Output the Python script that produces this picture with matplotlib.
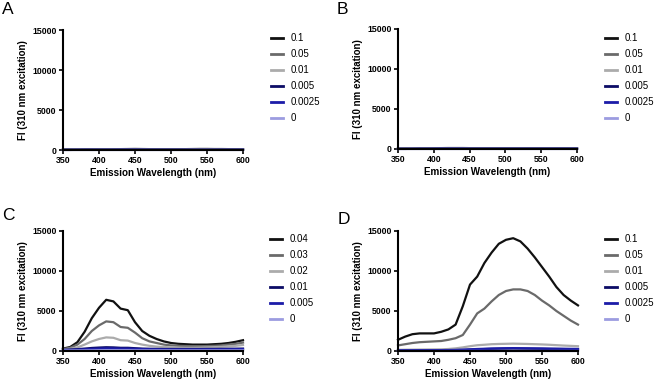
import matplotlib.pyplot as plt

plt.rcParams['font.family'] = ['Liberation Sans', 'DejaVu Sans']

wl = list(range(350, 601, 10))

labels_abd = ['0.1', '0.05', '0.01', '0.005', '0.0025', '0']
labels_c = ['0.04', '0.03', '0.02', '0.01', '0.005', '0']
colors = ['#111111', '#6a6a6a', '#ababab', '#0c0c66', '#1c1ca8', '#9c9ce0']

# panel A
a_1 = [60, 70, 70, 80, 80, 90, 90, 100, 110, 120, 130, 120, 110, 110, 100, 100, 100, 110, 120, 130, 130, 120, 120, 110, 110, 100]
a_05 = [40, 50, 50, 60, 60, 60, 70, 70, 80, 80, 80, 80, 70, 70, 70, 70, 70, 80, 80, 80, 80, 80, 70, 70, 70, 70]
a_01 = [20, 20, 30, 30, 30, 40, 40, 40, 40, 50, 50, 40, 40, 40, 40, 40, 40, 40, 50, 50, 50, 40, 40, 40, 40, 40]
a_005 = [20, 20, 20, 30, 30, 30, 30, 30, 30, 40, 40, 30, 30, 30, 30, 30, 30, 30, 30, 30, 30, 30, 30, 30, 30, 30]
a_0025 = [10, 10, 20, 20, 20, 20, 20, 20, 30, 30, 30, 30, 20, 20, 20, 20, 20, 20, 20, 20, 20, 20, 20, 20, 20, 20]
a_0 = [10, 10, 10, 10, 10, 10, 10, 10, 10, 10, 10, 10, 10, 10, 10, 10, 10, 10, 10, 10, 10, 10, 10, 10, 10, 10]

# panel B
b_1 = [50, 60, 60, 70, 80, 100, 110, 120, 120, 120, 110, 110, 100, 100, 100, 100, 100, 100, 110, 110, 110, 100, 100, 100, 90, 90]
b_05 = [30, 40, 40, 50, 60, 70, 80, 80, 80, 80, 70, 70, 70, 70, 70, 70, 70, 70, 70, 70, 70, 70, 60, 60, 60, 60]
b_01 = [20, 20, 30, 30, 40, 40, 50, 50, 50, 50, 40, 40, 40, 40, 40, 40, 40, 40, 40, 40, 40, 40, 40, 40, 40, 40]
b_005 = [20, 20, 20, 30, 30, 30, 40, 40, 40, 40, 30, 30, 30, 30, 30, 30, 30, 30, 30, 30, 30, 30, 30, 30, 30, 30]
b_0025 = [10, 10, 20, 20, 20, 20, 30, 30, 30, 30, 20, 20, 20, 20, 20, 20, 20, 20, 20, 20, 20, 20, 20, 20, 20, 20]
b_0 = [10, 10, 10, 10, 10, 10, 10, 10, 10, 10, 10, 10, 10, 10, 10, 10, 10, 10, 10, 10, 10, 10, 10, 10, 10, 10]

# panel C
c_04 = [300, 500, 1100, 2400, 4100, 5400, 6400, 6200, 5300, 5100, 3600, 2500, 1900, 1500, 1200, 1000, 900, 850, 800, 800, 800, 850, 900, 1000, 1150, 1350]
c_03 = [250, 400, 800, 1500, 2500, 3200, 3700, 3600, 3000, 2900, 2300, 1600, 1200, 1000, 800, 700, 650, 620, 600, 600, 620, 650, 700, 800, 900, 1050]
c_02 = [200, 280, 450, 800, 1200, 1500, 1700, 1650, 1350, 1300, 1000, 800, 650, 550, 500, 450, 420, 400, 400, 420, 450, 480, 520, 580, 650, 750]
c_01 = [150, 180, 230, 300, 380, 430, 470, 450, 400, 400, 350, 300, 280, 260, 250, 250, 250, 250, 250, 250, 260, 260, 270, 280, 290, 300]
c_005 = [120, 140, 170, 210, 260, 300, 330, 320, 300, 300, 270, 240, 220, 210, 200, 200, 200, 200, 200, 200, 210, 210, 220, 220, 230, 240]
c_0 = [60, 60, 70, 70, 80, 80, 90, 90, 90, 90, 80, 80, 80, 80, 80, 80, 80, 80, 80, 80, 80, 80, 80, 80, 80, 80]

# panel D
d_1 = [1400, 1800, 2100, 2200, 2200, 2200, 2400, 2700, 3300, 5600, 8300, 9300, 11000, 12300, 13400, 13900, 14100, 13700, 12800, 11700, 10500, 9300, 8000, 7000, 6300, 5700]
d_05 = [700, 850, 1000, 1100, 1150, 1200, 1250, 1400, 1600, 2000, 3300, 4700, 5300, 6200, 7000, 7500, 7700, 7700, 7500, 7000, 6300, 5700, 5000, 4400, 3800, 3300]
d_01 = [150, 160, 170, 180, 190, 200, 210, 250, 330, 450, 600, 720, 780, 850, 880, 900, 920, 900, 880, 850, 820, 780, 730, 680, 640, 600]
d_005 = [50, 60, 60, 70, 70, 80, 80, 90, 100, 130, 170, 210, 240, 270, 290, 300, 310, 300, 290, 280, 270, 260, 250, 240, 230, 220]
d_0025 = [80, 90, 90, 100, 100, 110, 110, 120, 140, 170, 210, 250, 280, 310, 330, 350, 360, 350, 340, 330, 320, 300, 290, 280, 270, 260]
d_0 = [40, 40, 40, 40, 40, 40, 40, 40, 40, 40, 40, 40, 40, 40, 40, 40, 40, 40, 40, 40, 40, 40, 40, 40, 40, 40]

# letter, series, labels, axes box (px), legend anchor (px), letter pos (px)
panels = [
    ('A', [a_1, a_05, a_01, a_005, a_0025, a_0], labels_abd, (63, 30, 243, 150), (271, 33), (2, 2)),
    ('B', [b_1, b_05, b_01, b_005, b_0025, b_0], labels_abd, (398, 29, 577, 149), (605, 33), (337, 2)),
    ('C', [c_04, c_03, c_02, c_01, c_005, c_0], labels_c, (63, 231, 243, 351), (270, 234), (2, 208)),
    ('D', [d_1, d_05, d_01, d_005, d_0025, d_0], labels_abd, (398, 231, 578, 351), (605, 234), (338, 212)),
]

W, H = 656, 382
fig = plt.figure(figsize=(W / 100, H / 100), dpi=100)

for letter, series, labs, (x0, y0, x1, y1), (lx, ly), (tx, ty) in panels:
    ax = fig.add_axes([x0 / W, 1 - y1 / H, (x1 - x0) / W, (y1 - y0) / H])
    for ys, lab, col in zip(series, labs, colors):
        ax.plot(wl, ys, color=col, lw=1.6, label=lab, clip_on=False)
    ax.set_xlim(350, 600)
    ax.set_ylim(0, 15000)
    ax.set_xticks([350, 400, 450, 500, 550, 600])
    ax.set_yticks([0, 5000, 10000, 15000])
    for s in ['top', 'right']:
        ax.spines[s].set_visible(False)
    for s in ['left', 'bottom']:
        ax.spines[s].set_linewidth(1.5)
    ax.tick_params(direction='out', length=3, width=1.2, labelsize=6.3, pad=1.5)
    for t in ax.get_xticklabels() + ax.get_yticklabels():
        t.set_fontweight('bold')
    ax.set_xlabel('Emission Wavelength (nm)', fontsize=7.1, fontweight='bold', labelpad=2)
    ax.set_ylabel('FI (310 nm excitation)', fontsize=7.0, fontweight='bold', labelpad=3)
    leg = fig.legend(*ax.get_legend_handles_labels(), loc='upper left',
                     bbox_to_anchor=(lx / W, 1 - ly / H), frameon=False,
                     borderpad=0, borderaxespad=0,
                     fontsize=7, handlelength=1.2, handletextpad=0.8, labelspacing=0.62)
    for ln in leg.get_lines():
        ln.set_linewidth(2)
    fig.text(tx / W, 1 - ty / H, letter, fontsize=12.5, va='top', ha='left')

fig.savefig('out.png', dpi=100)
